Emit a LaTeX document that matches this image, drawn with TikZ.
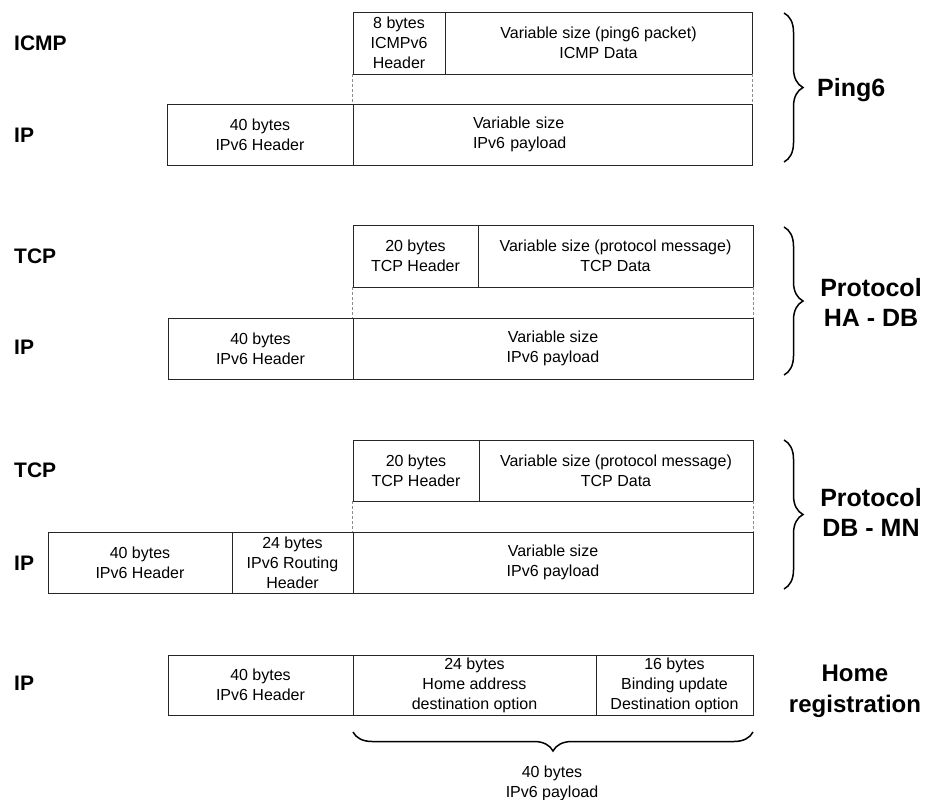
\documentclass[tikz,border=0pt]{standalone}
\usepackage{fontspec}
\setmainfont{Liberation Sans}
\usetikzlibrary{decorations.pathreplacing}

\tikzset{
  field/.style={draw=black!85, line width=0.9pt, inner sep=0pt, align=center,
                font=\fontsize{16}{20}\selectfont},
  layer/.style={font=\bfseries\fontsize{21}{25}\selectfont, anchor=west, inner sep=0pt},
  proto/.style={font=\bfseries\fontsize{25}{30}\selectfont, align=center, inner sep=0pt},
  gapside/.style={draw=black!45, dash pattern=on 3pt off 2pt, line width=0.8pt},
  bracket/.style={decorate, decoration={brace, amplitude=19pt}, line width=1.5pt},
  caption/.style={font=\fontsize{16}{20}\selectfont, align=center, inner sep=0pt},
}

% \fieldbox[options]{name}{x1}{y1}{x2}{y2}{text}: a header/payload field between two corners
\newcommand\fieldbox[7][]{%
  \node[field, minimum width={#5-#3}, minimum height={#6-#4}, #1]
    (#2) at ({(#3+#5)/2},{(#4+#6)/2}) {#7};}

\begin{document}
\begin{tikzpicture}[x=1pt, y=-1pt]
\fill[white] (0,0) rectangle (930,800);
\useasboundingbox (0,0) rectangle (930,800);

% ---------- Ping6 ----------
\node[layer] (lIcmpA) at (14,43) {ICMP};
\node[layer] (lIpA) at (14,135) {IP};
\fieldbox{icmphdr}{353}{12}{445}{74}{8 bytes\\ICMPv6\\Header}
\fieldbox{icmpdata}{445}{12}{752}{74}{Variable size (ping6 packet)\\ICMP Data}
\fieldbox{iphdrA}{167}{104}{353}{165}{40 bytes\\IPv6 Header}
\fieldbox[text width=159pt, align=left]{payA}{353}{104}{752}{165}{Variable size\\IPv6 payload}
\draw[gapside] (icmphdr.south west) -- (payA.north west);
\draw[gapside] (icmpdata.south east) -- (payA.north east);
\coordinate (brAtop) at (784,13);
\coordinate (brAbot) at (784,162);
\draw[bracket] (brAtop) -- (brAbot);
\node[proto, anchor=west] (pPing) at (817,90) {Ping6};

% ---------- Protocol HA - DB ----------
\node[layer] (lTcpB) at (14,256) {TCP};
\node[layer] (lIpB) at (14,347) {IP};
\fieldbox{tcphdrB}{353}{225}{478}{287}{20 bytes\\TCP Header}
\fieldbox{tcpdataB}{478}{225}{753}{287}{Variable size (protocol message)\\TCP Data}
\fieldbox{iphdrB}{168}{318}{353}{379}{40 bytes\\IPv6 Header}
\fieldbox{payB}{353}{318}{753}{379}{Variable size\\IPv6 payload}
\draw[gapside] (tcphdrB.south west) -- (payB.north west);
\draw[gapside] (tcpdataB.south east) -- (payB.north east);
\coordinate (brBtop) at (784,227);
\coordinate (brBbot) at (784,375);
\draw[bracket] (brBtop) -- (brBbot);
\node[proto] (pHaDb) at (871,302) {Protocol\\HA - DB};

% ---------- Protocol DB - MN ----------
\node[layer] (lTcpC) at (14,470) {TCP};
\node[layer] (lIpC) at (14,563) {IP};
\fieldbox{tcphdrC}{353}{440}{479}{501}{20 bytes\\TCP Header}
\fieldbox{tcpdataC}{479}{440}{753}{501}{Variable size (protocol message)\\TCP Data}
\fieldbox{iphdrC}{48}{532}{232}{593}{40 bytes\\IPv6 Header}
\fieldbox{routC}{232}{532}{353}{593}{24 bytes\\IPv6 Routing\\Header}
\fieldbox{payC}{353}{532}{753}{593}{Variable size\\IPv6 payload}
\draw[gapside] (tcphdrC.south west) -- (payC.north west);
\draw[gapside] (tcpdataC.south east) -- (payC.north east);
\coordinate (brCtop) at (784,440);
\coordinate (brCbot) at (784,589);
\draw[bracket] (brCtop) -- (brCbot);
\node[proto] (pDbMn) at (871,512) {Protocol\\DB - MN};

% ---------- Home registration ----------
\node[layer] (lIpD) at (14,683) {IP};
\fieldbox{iphdrD}{168}{655}{353}{715}{40 bytes\\IPv6 Header}
\fieldbox{homeD}{353}{655}{596}{715}{24 bytes\\Home address\\destination option}
\fieldbox{bindD}{596}{655}{753}{715}{16 bytes\\Binding update\\Destination option}
\node[proto, font=\bfseries\fontsize{24}{31}\selectfont] (pHome) at (855,691) {Home\\registration};
\coordinate (brDright) at (753,732);
\coordinate (brDleft) at (353,732);
\draw[bracket] (brDright) -- (brDleft);
\node[caption] (capD) at (552,783.5) {40 bytes\\IPv6 payload};
\end{tikzpicture}
\end{document}
